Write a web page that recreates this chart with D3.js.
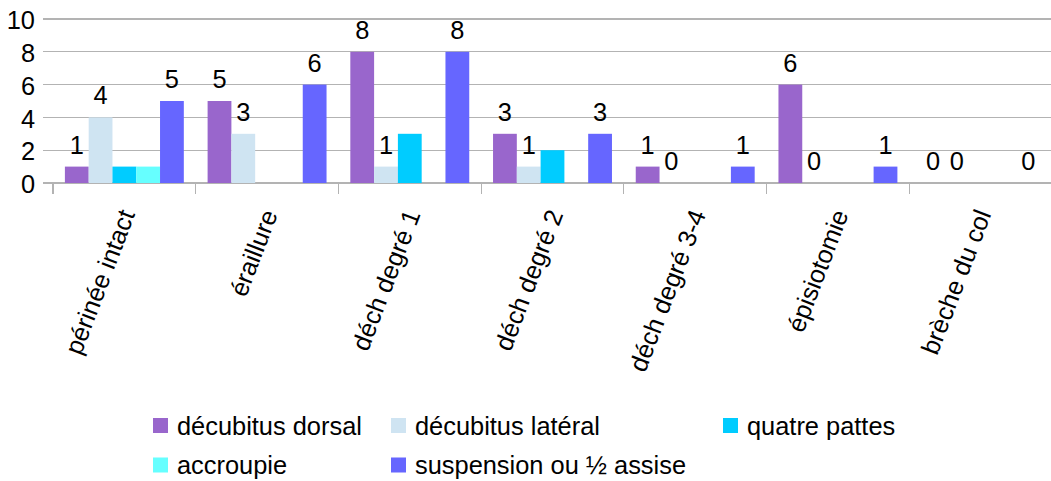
<!DOCTYPE html>
<html>
<head>
<meta charset="utf-8">
<script src="https://cdn.jsdelivr.net/npm/d3@7"></script>
<style>
  body { margin: 0; background: #fff; }
  svg { display: block; }
  text { font-family: "Liberation Sans", Arial, sans-serif; fill: #000; }
</style>
</head>
<body>
<svg id="chart" width="1051" height="481"></svg>
<script>
// Perineal outcome by delivery position
const categories = ["périnée intact", "éraillure", "déch degré 1", "déch degré 2", "déch degré 3-4", "épisiotomie", "brèche du col"];
const seriesNames = ["décubitus dorsal", "décubitus latéral", "quatre pattes", "accroupie", "suspension ou ½ assise"];
const dorsal       = [1, 5, 8, 3, 1, 6, 0];
const lateral      = [4, 3, 1, 1, 0, 0, 0];
const quatrePattes = [1, 0, 3, 2, 0, 0, 0];
const accroupie    = [1, 0, 0, 0, 0, 0, 0];
const suspension   = [5, 6, 8, 3, 1, 1, 0];
const yTicks = [0, 2, 4, 6, 8, 10];
const seriesColors = ["#9966cc", "#cfe4f2", "#00ccff", "#66ffff", "#6666ff"];
const showsLabels = [true, true, false, false, true];

const seriesValues = [dorsal, lateral, quatrePattes, accroupie, suspension];
const series = seriesNames.map((name, i) => ({
  name, color: seriesColors[i], labelled: showsLabels[i], values: seriesValues[i]
}));

const W = 1051, H = 481;
const plot = { left: 53, right: 1052, top: 19, bottom: 183 };
const fontSize = 25.4;
const gridColor = "#b3b3b3";

const svg = d3.select("#chart");

const x = d3.scaleBand().domain(categories).range([plot.left, plot.right]).padding(0);
const xs = d3.scaleBand().domain(seriesNames).range([0, x.bandwidth()]).paddingInner(0).paddingOuter(0.5);
const y = d3.scaleLinear().domain([0, 10]).range([plot.bottom, plot.top]);

// horizontal gridlines with short outward ticks on the left
const grid = svg.append("g");
grid.selectAll("line").data(yTicks).join("line")
  .attr("x1", plot.left - 10).attr("x2", plot.right)
  .attr("y1", d => y(d)).attr("y2", d => y(d))
  .attr("stroke", gridColor).attr("stroke-width", 1.2)
  .attr("shape-rendering", "crispEdges");

// y tick labels
svg.append("g").selectAll("text").data(yTicks).join("text")
  .attr("x", 35).attr("y", d => y(d)).attr("dy", "0.4em")
  .attr("text-anchor", "end").attr("font-size", fontSize)
  .text(d => d);

// category separator ticks below the baseline
const bounds = categories.map(c => x(c)).concat([plot.right]);
svg.append("g").selectAll("line").data(bounds).join("line")
  .attr("x1", d => d).attr("x2", d => d)
  .attr("y1", plot.bottom).attr("y2", plot.bottom + 11)
  .attr("stroke", gridColor).attr("stroke-width", 1.2)
  .attr("shape-rendering", "crispEdges");

// bars
const groups = svg.append("g").selectAll("g").data(series).join("g")
  .attr("fill", d => d.color);
groups.selectAll("rect")
  .data(s => s.values.map((v, i) => ({ s, v, cat: categories[i] })))
  .join("rect")
  .attr("x", d => x(d.cat) + xs(d.s.name))
  .attr("width", xs.bandwidth())
  .attr("y", d => y(d.v))
  .attr("height", d => y(0) - y(d.v));

// value labels
svg.append("g").selectAll("g").data(series.filter(s => s.labelled)).join("g")
  .selectAll("text")
  .data(s => s.values.map((v, i) => ({ s, v, cat: categories[i] })))
  .join("text")
  .attr("x", d => x(d.cat) + xs(d.s.name) + xs.bandwidth() / 2)
  .attr("y", d => y(d.v) - 13)
  .attr("text-anchor", "middle").attr("font-size", fontSize)
  .text(d => d.v);

// rotated category labels
svg.append("g").selectAll("text").data(categories).join("text")
  .attr("transform", d => `translate(${x(d) + x.bandwidth() / 2 + 11},${plot.bottom + 31}) rotate(-69)`)
  .attr("text-anchor", "end").attr("font-size", fontSize)
  .text(d => d);

// legend: three columns, two rows
const legendRows = [[0, 1, 2], [3, 4]];
const colX = [153, 391, 723];
const rowY = [425.5, 465];
const sw = 15, textGap = 24;
const legend = svg.append("g");

legendRows.forEach((row, ri) => {
  row.forEach((si, ci) => {
    const g = legend.append("g").attr("transform", `translate(${colX[ci]},${rowY[ri]})`);
    g.append("rect").attr("x", 0).attr("y", -sw / 2).attr("width", sw).attr("height", sw)
      .attr("fill", seriesColors[si]);
    g.append("text").attr("x", textGap).attr("dy", "0.36em")
      .attr("font-size", fontSize).text(seriesNames[si]);
  });
});
</script>
</body>
</html>
